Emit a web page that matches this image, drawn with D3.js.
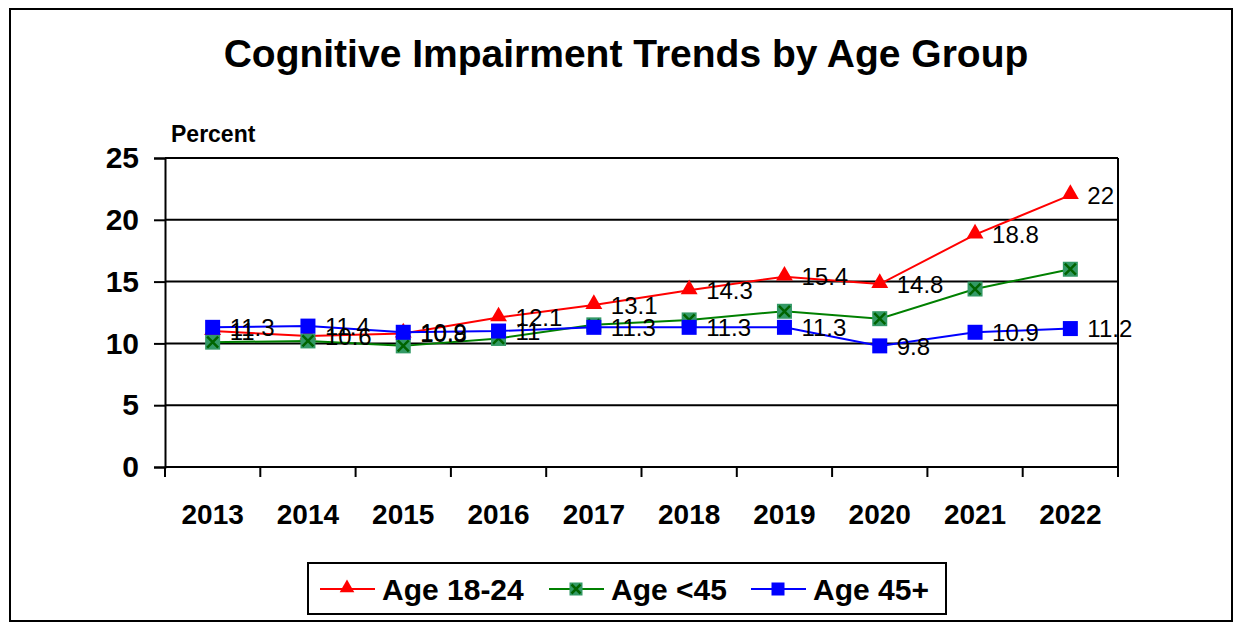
<!DOCTYPE html>
<html>
<head>
<meta charset="utf-8">
<script src="https://cdn.jsdelivr.net/npm/d3@7"></script>
<style>
  body { margin: 0; background: #fff; }
  svg { font-family: "Liberation Sans", Arial, sans-serif; }
</style>
</head>
<body>
<svg id="chart" width="1242" height="627"></svg>
<script>
const width = 1242;
const height = 627;

// data
const years = ["2013", "2014", "2015", "2016", "2017", "2018", "2019", "2020", "2021", "2022"];
const age1824 = [11, 10.6, 10.8, 12.1, 13.1, 14.3, 15.4, 14.8, 18.8, 22];
const ageUnder45 = [10.1, 10.2, 9.8, 10.4, 11.5, 11.9, 12.6, 12.0, 14.4, 16.0];
const age45plus = [11.3, 11.4, 10.9, 11, 11.3, 11.3, 11.3, 9.8, 10.9, 11.2];
const yTicks = [0, 5, 10, 15, 20, 25];

const series = [
    { name: "Age 18-24", values: age1824, color: "#ff0000", marker: "triangle", labels: true },
    { name: "Age <45", values: ageUnder45, color: "#008000", marker: "xsquare", labels: false },
    { name: "Age 45+", values: age45plus, color: "#0000ff", marker: "square", labels: true }
];

const margin = { left: 165, right: 124, top: 158, bottom: 160 };

const svg = d3.select("#chart");

svg.append("rect")
    .attr("x", 10).attr("y", 9)
    .attr("width", 1222).attr("height", 612)
    .attr("fill", "#fff").attr("stroke", "#000").attr("stroke-width", 2);

svg.append("text")
    .attr("x", 626).attr("y", 67)
    .attr("text-anchor", "middle")
    .attr("font-size", 39).attr("font-weight", "bold")
    .text("Cognitive Impairment Trends by Age Group");

svg.append("text")
    .attr("x", 171).attr("y", 142)
    .attr("font-size", 23).attr("font-weight", "bold")
    .text("Percent");

const x = d3.scaleBand()
    .domain(years)
    .range([margin.left, width - margin.right]);

const y = d3.scaleLinear()
    .domain([0, 25])
    .range([height - margin.bottom, margin.top]);

const g = svg.append("g");

// gridlines
g.selectAll("line.grid")
    .data(yTicks.filter(d => d > 0))
    .enter()
    .append("line")
    .attr("x1", margin.left).attr("x2", width - margin.right)
    .attr("y1", d => y(d)).attr("y2", d => y(d))
    .attr("stroke", "#000").attr("stroke-width", 2);

// right border of the plot
g.append("line")
    .attr("x1", width - margin.right).attr("x2", width - margin.right)
    .attr("y1", y(25)).attr("y2", y(0))
    .attr("stroke", "#000").attr("stroke-width", 2);

// y axis
const yAxis = g.append("g")
    .attr("transform", `translate(${margin.left},0)`)
    .call(d3.axisLeft(y).tickValues(yTicks).tickSize(11).tickPadding(15));
yAxis.selectAll("path, line").attr("stroke", "#000").attr("stroke-width", 2);
yAxis.selectAll("text")
    .attr("font-size", 30).attr("font-weight", "bold")
    .attr("font-family", "Liberation Sans, Arial, sans-serif")
    .attr("fill", "#000");

// x axis: ticks sit between categories
const xAxis = g.append("g")
    .attr("transform", `translate(0,${y(0)})`);
xAxis.append("line")
    .attr("x1", margin.left).attr("x2", width - margin.right)
    .attr("stroke", "#000").attr("stroke-width", 2);
xAxis.selectAll("line.tick")
    .data(years.concat(["end"]))
    .enter()
    .append("line")
    .attr("x1", (d, i) => i < years.length ? x(d) : x(years[years.length - 1]) + x.bandwidth())
    .attr("x2", (d, i) => i < years.length ? x(d) : x(years[years.length - 1]) + x.bandwidth())
    .attr("y1", 0).attr("y2", 10)
    .attr("stroke", "#000").attr("stroke-width", 2);
xAxis.selectAll("text")
    .data(years)
    .enter()
    .append("text")
    .attr("x", d => x(d) + x.bandwidth() / 2)
    .attr("y", 57)
    .attr("text-anchor", "middle")
    .attr("font-size", 28).attr("font-weight", "bold")
    .text(d => d);

const cx = d => x(d) + x.bandwidth() / 2;

function drawMarker(sel, type, color, size) {
    if (type === "triangle") {
        sel.append("path")
            .attr("d", d3.symbol().type(d3.symbolTriangle).size(size * size * 0.55)())
            .attr("transform", "translate(0,-1)")
            .attr("fill", color);
    } else if (type === "square") {
        sel.append("rect")
            .attr("x", -size / 2).attr("y", -size / 2)
            .attr("width", size).attr("height", size)
            .attr("fill", color);
    } else {
        sel.append("rect")
            .attr("x", -size / 2).attr("y", -size / 2)
            .attr("width", size).attr("height", size)
            .attr("fill", "#339966");
        sel.append("path")
            .attr("d", `M${-size / 2 + 2},${-size / 2 + 2}L${size / 2 - 2},${size / 2 - 2}M${size / 2 - 2},${-size / 2 + 2}L${-size / 2 + 2},${size / 2 - 2}`)
            .attr("stroke", "#006400").attr("stroke-width", 2.5);
    }
}

const line = d3.line()
    .x((d, i) => cx(years[i]))
    .y(d => y(d));

series.forEach(s => {
    g.append("path")
        .datum(s.values)
        .attr("d", line)
        .attr("fill", "none")
        .attr("stroke", s.color)
        .attr("stroke-width", 2);

    g.selectAll(null)
        .data(s.values)
        .enter()
        .append("g")
        .attr("transform", (d, i) => `translate(${cx(years[i])},${y(d)})`)
        .each(function () { drawMarker(d3.select(this), s.marker, s.color, 15); });
});

// data labels
series.filter(s => s.labels).forEach(s => {
    g.selectAll(null)
        .data(s.values)
        .enter()
        .append("text")
        .attr("x", (d, i) => cx(years[i]) + 17)
        .attr("y", d => y(d))
        .attr("dy", "0.36em")
        .attr("font-size", 24)
        .attr("fill", "#000")
        .text(d => d);
});

// legend
const legend = svg.append("g");
legend.append("rect")
    .attr("x", 308).attr("y", 563)
    .attr("width", 638).attr("height", 51)
    .attr("fill", "#fff").attr("stroke", "#000").attr("stroke-width", 2);

const legendPos = [320, 549, 751];
series.forEach((s, i) => {
    const lg = legend.append("g").attr("transform", `translate(${legendPos[i]},589)`);
    lg.append("line")
        .attr("x1", 0).attr("x2", 55)
        .attr("stroke", s.color).attr("stroke-width", 2);
    const m = lg.append("g").attr("transform", "translate(27,0)");
    drawMarker(m, s.marker, s.color, 13);
    lg.append("text")
        .attr("x", 62).attr("y", 0)
        .attr("dy", "0.36em")
        .attr("font-size", 30).attr("font-weight", "bold")
        .text(s.name);
});
</script>
</body>
</html>
